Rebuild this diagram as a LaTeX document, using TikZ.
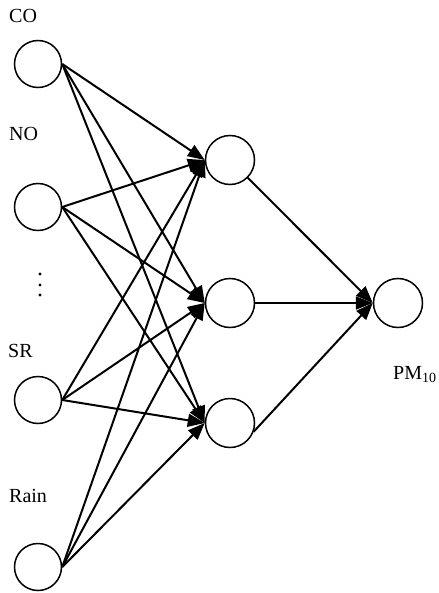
\documentclass[tikz,border=0pt]{standalone}
\usepackage{fontspec}
\setmainfont{Liberation Serif}
\usetikzlibrary{arrows.meta}
\begin{document}
\begin{tikzpicture}[x=1bp,y=-1bp,
  neuron/.style={circle,draw,line width=1.5bp,minimum size=47bp,inner sep=0pt},
  link/.style={line width=2bp,-{Triangle[length=17bp,width=13bp]}},
  lab/.style={anchor=base west,inner sep=0pt,font=\fontsize{20bp}{24bp}\selectfont}]
\useasboundingbox (0,0) rectangle (439,593);

% input layer
\node[neuron] (i1) at (38,64) {};
\node[neuron] (i2) at (38,207) {};
\node[neuron] (i3) at (38,400) {};
\node[neuron] (i4) at (38,567) {};

% hidden layer
\node[neuron,minimum size=49bp] (h1) at (230,160) {};
\node[neuron,minimum size=49bp] (h2) at (230,303) {};
\node[neuron,minimum size=49bp] (h3) at (230,423) {};

% output
\node[neuron,minimum size=49bp] (o) at (398,303) {};

% labels
\node[lab] (lco) at (9,23) {CO};
\node[lab] (lno) at (9,141) {NO};
\node[lab] (lsr) at (8,357) {SR};
\node[lab] (lrain) at (9,502) {Rain};
\node[lab] (lpm) at (393,379) {PM\textsubscript{10}};

% vertical ellipsis between the inputs
\foreach \yy in {274,285,295} \fill (40,\yy) circle (1.6bp);

% input -> hidden
\foreach \i in {1,2,3,4}
  \foreach \h in {1,2,3}
    \draw[link] (i\i.east) -- (h\h.west);

% hidden -> output
\draw[link] (h1.south east) -- (o.west);
\draw[link] (h2.east) -- (o.west);
\draw[link] (h3.-20) -- (o.west);
\end{tikzpicture}
\end{document}
